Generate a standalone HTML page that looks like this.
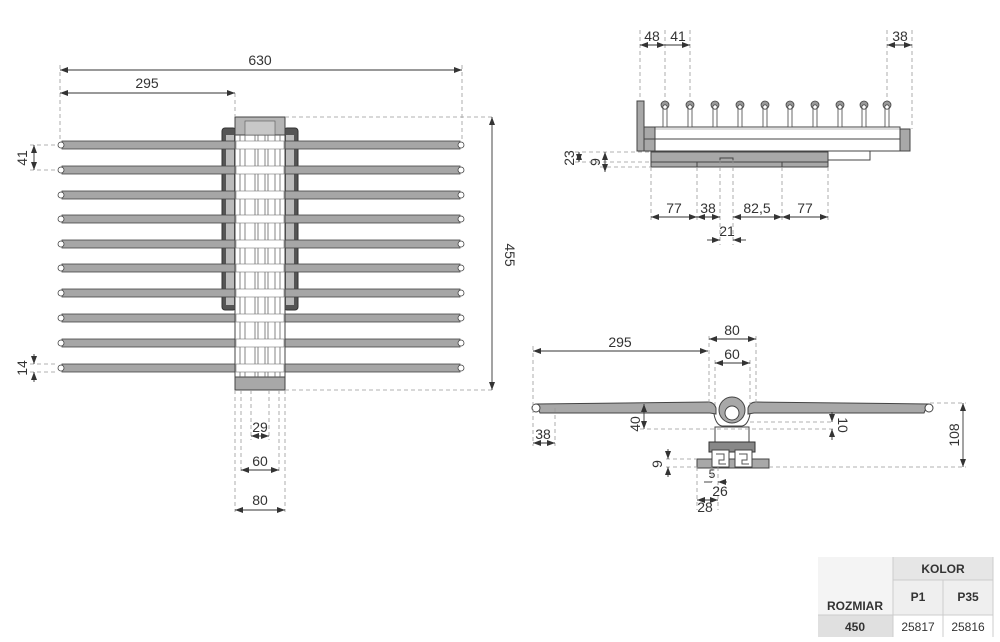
<!DOCTYPE html>
<html><head><meta charset="utf-8"><style>
html,body{margin:0;padding:0;background:#fff;}
svg{display:block;font-family:"Liberation Sans",sans-serif;}
.d{stroke:#999;stroke-width:0.8;stroke-dasharray:4 3;fill:none}
.l{stroke:#333;stroke-width:0.9;fill:none}
.t{font-size:14px;fill:#333;text-anchor:middle}
.rod{fill:#a6a6a6;stroke:#444;stroke-width:0.8}
</style></head><body>
<svg width="1000" height="642" viewBox="0 0 1000 642" xmlns="http://www.w3.org/2000/svg">
<defs>
<marker id="a" markerWidth="8" markerHeight="6" refX="8" refY="3" orient="auto-start-reverse" markerUnits="userSpaceOnUse"><path d="M0,0 L8,3 L0,6 z" fill="#333"/></marker>
<g id="p"><rect x="-2" y="0" width="4" height="22"/><circle cx="0" cy="0" r="4" fill="#999"/><circle cx="0" cy="2" r="2.2"/></g>
</defs>

<!-- LEFT VIEW -->
<g>
<rect x="222" y="128" width="14" height="182" rx="3" fill="#555" stroke="#333"/>
<rect x="284" y="128" width="14" height="182" rx="3" fill="#555" stroke="#333"/>
<rect x="226" y="135" width="8" height="170" fill="#bbb"/>
<rect x="286" y="135" width="8" height="170" fill="#bbb"/>
<g>
<rect class="rod" x="62" y="141" width="398" height="8"/>
<rect class="rod" x="62" y="166" width="398" height="8"/>
<rect class="rod" x="62" y="191" width="398" height="8"/>
<rect class="rod" x="62" y="215" width="398" height="8"/>
<rect class="rod" x="62" y="240" width="398" height="8"/>
<rect class="rod" x="62" y="264" width="398" height="8"/>
<rect class="rod" x="62" y="289" width="398" height="8"/>
<rect class="rod" x="62" y="314" width="398" height="8"/>
<rect class="rod" x="62" y="339" width="398" height="8"/>
<rect class="rod" x="62" y="364" width="398" height="8"/>
</g>
<g fill="#fff" stroke="#444" stroke-width="0.8">
<circle cx="61" cy="145" r="3"/><circle cx="461" cy="145" r="3"/>
<circle cx="61" cy="170" r="3"/><circle cx="461" cy="170" r="3"/>
<circle cx="61" cy="195" r="3"/><circle cx="461" cy="195" r="3"/>
<circle cx="61" cy="219" r="3"/><circle cx="461" cy="219" r="3"/>
<circle cx="61" cy="244" r="3"/><circle cx="461" cy="244" r="3"/>
<circle cx="61" cy="268" r="3"/><circle cx="461" cy="268" r="3"/>
<circle cx="61" cy="293" r="3"/><circle cx="461" cy="293" r="3"/>
<circle cx="61" cy="318" r="3"/><circle cx="461" cy="318" r="3"/>
<circle cx="61" cy="343" r="3"/><circle cx="461" cy="343" r="3"/>
<circle cx="61" cy="368" r="3"/><circle cx="461" cy="368" r="3"/>
</g>
<rect x="235" y="117" width="50" height="273" fill="#fff" stroke="#444"/>
<rect x="235" y="117" width="50" height="18" fill="#b5b5b5" stroke="#444"/>
<rect x="245" y="121" width="30" height="14" fill="#c8c8c8" stroke="#555" stroke-width="0.6"/>
<rect x="235" y="377" width="50" height="13" fill="#a8a8a8" stroke="#444"/>
<g stroke="#666" stroke-width="0.8">
<line x1="240" y1="135" x2="240" y2="377"/><line x1="245" y1="135" x2="245" y2="377"/>
<line x1="255" y1="135" x2="255" y2="377"/><line x1="258" y1="135" x2="258" y2="377"/>
<line x1="265" y1="135" x2="265" y2="377"/><line x1="268" y1="135" x2="268" y2="377"/>
<line x1="275" y1="135" x2="275" y2="377"/><line x1="280" y1="135" x2="280" y2="377"/>
</g>
<g fill="#fff" stroke="#777" stroke-width="0.6">
<rect x="236" y="141" width="48" height="8"/><rect x="236" y="166" width="48" height="8"/>
<rect x="236" y="191" width="48" height="8"/><rect x="236" y="215" width="48" height="8"/>
<rect x="236" y="240" width="48" height="8"/><rect x="236" y="264" width="48" height="8"/>
<rect x="236" y="289" width="48" height="8"/><rect x="236" y="314" width="48" height="8"/>
<rect x="236" y="339" width="48" height="8"/><rect x="236" y="364" width="48" height="8"/>
</g>
<line class="d" x1="60" y1="65" x2="60" y2="141"/>
<line class="d" x1="462" y1="65" x2="462" y2="141"/>
<line class="d" x1="235" y1="93" x2="235" y2="117"/>
<line class="l" x1="60" y1="70" x2="462" y2="70" marker-start="url(#a)" marker-end="url(#a)"/>
<text class="t" x="260" y="65">630</text>
<line class="l" x1="60" y1="93" x2="235" y2="93" marker-start="url(#a)" marker-end="url(#a)"/>
<text class="t" x="147" y="88">295</text>
<line class="d" x1="285" y1="117" x2="494" y2="117"/>
<line class="d" x1="285" y1="390" x2="494" y2="390"/>
<line class="l" x1="492" y1="117" x2="492" y2="390" marker-start="url(#a)" marker-end="url(#a)"/>
<text class="t" transform="translate(505,255) rotate(90)">455</text>
<line class="d" x1="30" y1="145" x2="58" y2="145"/><line class="d" x1="30" y1="170" x2="58" y2="170"/>
<line class="l" x1="34" y1="145" x2="34" y2="170" marker-start="url(#a)" marker-end="url(#a)"/>
<text class="t" transform="translate(27,158) rotate(-90)">41</text>
<line class="d" x1="30" y1="364" x2="58" y2="364"/><line class="d" x1="30" y1="372" x2="58" y2="372"/>
<line class="l" x1="34" y1="354" x2="34" y2="364" marker-end="url(#a)"/>
<line class="l" x1="34" y1="382" x2="34" y2="372" marker-end="url(#a)"/>
<text class="t" transform="translate(27,368) rotate(-90)">14</text>
<line class="d" x1="235" y1="390" x2="235" y2="512"/><line class="d" x1="285" y1="390" x2="285" y2="512"/>
<line class="d" x1="241" y1="390" x2="241" y2="472"/><line class="d" x1="279" y1="390" x2="279" y2="472"/>
<line class="d" x1="251" y1="390" x2="251" y2="440"/><line class="d" x1="269" y1="390" x2="269" y2="440"/>
<line class="l" x1="251" y1="436" x2="269" y2="436" marker-start="url(#a)" marker-end="url(#a)"/>
<text class="t" x="260" y="432">29</text>
<line class="l" x1="241" y1="470" x2="279" y2="470" marker-start="url(#a)" marker-end="url(#a)"/>
<text class="t" x="260" y="466">60</text>
<line class="l" x1="235" y1="510" x2="285" y2="510" marker-start="url(#a)" marker-end="url(#a)"/>
<text class="t" x="260" y="505">80</text>
</g>

<!-- TOP RIGHT VIEW -->
<g>
<rect x="637" y="101" width="7" height="50" fill="#a8a8a8" stroke="#444"/>
<rect x="644" y="127" width="12" height="24" fill="#a8a8a8" stroke="#444"/>
<rect x="655" y="127" width="245" height="24" fill="#fff" stroke="#444"/>
<line x1="655" y1="139" x2="900" y2="139" stroke="#444"/>
<line x1="655" y1="129" x2="900" y2="129" stroke="#777" stroke-width="0.6"/>
<rect x="900" y="129" width="10" height="22" fill="#a8a8a8" stroke="#444"/>
<line x1="644" y1="139" x2="656" y2="139" stroke="#444"/>
<g fill="#fff" stroke="#444" stroke-width="0.8">
<use href="#p" x="665" y="105"/><use href="#p" x="690" y="105"/><use href="#p" x="715" y="105"/>
<use href="#p" x="740" y="105"/><use href="#p" x="765" y="105"/><use href="#p" x="790" y="105"/>
<use href="#p" x="815" y="105"/><use href="#p" x="840" y="105"/><use href="#p" x="864" y="105"/>
<use href="#p" x="887" y="105"/>
</g>
<rect x="651" y="152" width="177" height="15" fill="#a8a8a8" stroke="#444"/>
<line x1="651" y1="162" x2="828" y2="162" stroke="#444"/>
<line x1="697" y1="162" x2="697" y2="167" stroke="#444"/>
<line x1="782" y1="162" x2="782" y2="167" stroke="#444"/>
<rect x="720" y="158" width="13" height="4" fill="#a8a8a8" stroke="#444"/>
<polyline points="828,160 870,160 870,151" fill="none" stroke="#444"/>
<line class="d" x1="640" y1="30" x2="640" y2="101"/>
<line class="d" x1="665" y1="30" x2="665" y2="101"/>
<line class="d" x1="690" y1="30" x2="690" y2="101"/>
<line class="d" x1="887" y1="30" x2="887" y2="101"/>
<line class="d" x1="912" y1="30" x2="912" y2="129"/>
<line class="l" x1="640" y1="45" x2="665" y2="45" marker-start="url(#a)" marker-end="url(#a)"/>
<line class="l" x1="665" y1="45" x2="690" y2="45" marker-end="url(#a)"/>
<text class="t" x="652" y="41">48</text><text class="t" x="678" y="41">41</text>
<line class="l" x1="887" y1="45" x2="912" y2="45" marker-start="url(#a)" marker-end="url(#a)"/>
<text class="t" x="900" y="41">38</text>
<line class="d" x1="651" y1="167" x2="651" y2="220"/>
<line class="d" x1="697" y1="167" x2="697" y2="220"/>
<line class="d" x1="720" y1="160" x2="720" y2="245"/>
<line class="d" x1="733" y1="160" x2="733" y2="245"/>
<line class="d" x1="782" y1="167" x2="782" y2="220"/>
<line class="d" x1="828" y1="167" x2="828" y2="220"/>
<line class="l" x1="651" y1="217" x2="697" y2="217" marker-start="url(#a)" marker-end="url(#a)"/>
<line class="l" x1="697" y1="217" x2="720" y2="217" marker-start="url(#a)" marker-end="url(#a)"/>
<line class="l" x1="733" y1="217" x2="782" y2="217" marker-start="url(#a)" marker-end="url(#a)"/>
<line class="l" x1="782" y1="217" x2="828" y2="217" marker-start="url(#a)" marker-end="url(#a)"/>
<text class="t" x="674" y="213">77</text><text class="t" x="708" y="213">38</text>
<text class="t" x="757" y="213">82,5</text><text class="t" x="805" y="213">77</text>
<line class="l" x1="707" y1="240" x2="720" y2="240" marker-end="url(#a)"/>
<line class="l" x1="746" y1="240" x2="733" y2="240" marker-end="url(#a)"/>
<text class="t" x="727" y="236">21</text>
<line class="d" x1="575" y1="152" x2="651" y2="152"/>
<line class="d" x1="575" y1="162" x2="651" y2="162"/>
<line class="d" x1="600" y1="167" x2="651" y2="167"/>
<line class="l" x1="579" y1="152" x2="579" y2="162" marker-start="url(#a)" marker-end="url(#a)"/>
<text class="t" transform="translate(574,158) rotate(-90)">23</text>
<line class="l" x1="605" y1="152" x2="605" y2="172" marker-start="url(#a)" marker-end="url(#a)"/>
<text class="t" transform="translate(600,162) rotate(-90)">9</text>
</g>

<!-- BOTTOM RIGHT VIEW -->
<g>
<path d="M536,404 L708,402 Q714,402 716,408 L716,414 L710,413 L540,413 Z" fill="#a8a8a8" stroke="#444"/>
<path d="M928,404 L756,402 Q750,402 748,408 L748,414 L754,413 L924,413 Z" fill="#a8a8a8" stroke="#444"/>
<circle cx="536" cy="408" r="4" fill="#fff" stroke="#444"/>
<circle cx="929" cy="408" r="4" fill="#fff" stroke="#444"/>
<path d="M714,414 Q716,425 722,426 L742,426 Q748,425 750,414" fill="none" stroke="#444"/>
<circle cx="732" cy="410" r="13" fill="#a8a8a8" stroke="#444"/>
<circle cx="732" cy="413" r="7" fill="#fff" stroke="#444"/>
<rect x="715" y="427" width="34" height="15" fill="#fff" stroke="#444"/>
<rect x="709" y="442" width="46" height="10" fill="#888" stroke="#333"/>
<rect x="697" y="459" width="72" height="9" fill="#a8a8a8" stroke="#444"/>
<rect x="712" y="450" width="17" height="17" fill="#fff" stroke="#444"/>
<rect x="735" y="450" width="17" height="17" fill="#fff" stroke="#444"/>
<path d="M716,454 h8 v6 h-5 v4 h7" fill="none" stroke="#555"/>
<path d="M739,454 h8 v6 h-5 v4 h7" fill="none" stroke="#555"/>
<line class="d" x1="533" y1="346" x2="533" y2="446"/>
<line class="d" x1="555" y1="408" x2="555" y2="446"/>
<line class="l" x1="533" y1="443" x2="555" y2="443" marker-start="url(#a)" marker-end="url(#a)"/>
<text class="t" x="543" y="439">38</text>
<line class="l" x1="533" y1="351" x2="708" y2="351" marker-start="url(#a)" marker-end="url(#a)"/>
<text class="t" x="620" y="347">295</text>
<line class="d" x1="709" y1="336" x2="709" y2="405"/>
<line class="d" x1="756" y1="336" x2="756" y2="405"/>
<line class="d" x1="715" y1="360" x2="715" y2="405"/>
<line class="d" x1="750" y1="360" x2="750" y2="405"/>
<line class="l" x1="709" y1="339" x2="756" y2="339" marker-start="url(#a)" marker-end="url(#a)"/>
<text class="t" x="732" y="335">80</text>
<line class="l" x1="715" y1="363" x2="750" y2="363" marker-start="url(#a)" marker-end="url(#a)"/>
<text class="t" x="732" y="359">60</text>
<line class="l" x1="644" y1="404" x2="644" y2="429" marker-start="url(#a)" marker-end="url(#a)"/>
<line class="d" x1="640" y1="429" x2="834" y2="429"/>
<line class="d" x1="750" y1="422" x2="834" y2="422"/>
<text class="t" transform="translate(640,424) rotate(-90)">40</text>
<line class="l" x1="832" y1="412" x2="832" y2="422" marker-end="url(#a)"/>
<line class="l" x1="832" y1="440" x2="832" y2="429" marker-end="url(#a)"/>
<text class="t" transform="translate(838,425) rotate(90)">10</text>
<line class="d" x1="930" y1="403" x2="966" y2="403"/>
<line class="d" x1="769" y1="467" x2="966" y2="467"/>
<line class="l" x1="963" y1="403" x2="963" y2="467" marker-start="url(#a)" marker-end="url(#a)"/>
<text class="t" transform="translate(959,435) rotate(-90)">108</text>
<line class="d" x1="666" y1="459" x2="697" y2="459"/>
<line class="d" x1="666" y1="467" x2="697" y2="467"/>
<line class="l" x1="668" y1="449" x2="668" y2="459" marker-end="url(#a)"/>
<line class="l" x1="668" y1="477" x2="668" y2="467" marker-end="url(#a)"/>
<text class="t" transform="translate(662,464) rotate(-90)">9</text>
<line class="d" x1="697" y1="467" x2="697" y2="510"/>
<line class="d" x1="718" y1="467" x2="718" y2="510"/>
<line class="d" x1="712" y1="467" x2="712" y2="482"/>
<text class="t" x="712" y="478" style="font-size:12px">5</text>
<line class="l" x1="704" y1="482" x2="712" y2="482"/>
<line class="l" x1="718" y1="482" x2="727" y2="482" marker-start="url(#a)"/>
<text class="t" x="720" y="496">26</text>
<line class="l" x1="697" y1="500" x2="718" y2="500" marker-start="url(#a)" marker-end="url(#a)"/>
<text class="t" x="705" y="512">28</text>
</g>

<!-- TABLE -->
<g font-size="12" font-weight="bold" fill="#333">
<rect x="818" y="557" width="75" height="58" fill="#f4f4f4"/>
<rect x="893" y="557" width="100" height="23" fill="#e6e6e6"/>
<rect x="893" y="580" width="100" height="35" fill="#efefef"/>
<rect x="818" y="615" width="75" height="22" fill="#e0e0e0"/>
<rect x="893" y="615" width="100" height="22" fill="#fff"/>
<g stroke="#ccc" stroke-width="1" fill="none">
<line x1="893" y1="557" x2="893" y2="637"/>
<line x1="943" y1="580" x2="943" y2="637"/>
<line x1="893" y1="580" x2="993" y2="580"/>
<line x1="818" y1="615" x2="993" y2="615"/>
<line x1="993" y1="557" x2="993" y2="637"/>
</g>
<text x="943" y="573" text-anchor="middle">KOLOR</text>
<text x="918" y="601" text-anchor="middle">P1</text>
<text x="968" y="601" text-anchor="middle">P35</text>
<text x="855" y="610" text-anchor="middle">ROZMIAR</text>
<text x="855" y="631" text-anchor="middle">450</text>
<text x="918" y="631" text-anchor="middle" font-weight="normal">25817</text>
<text x="968" y="631" text-anchor="middle" font-weight="normal">25816</text>
</g>
</svg>
</body></html>
